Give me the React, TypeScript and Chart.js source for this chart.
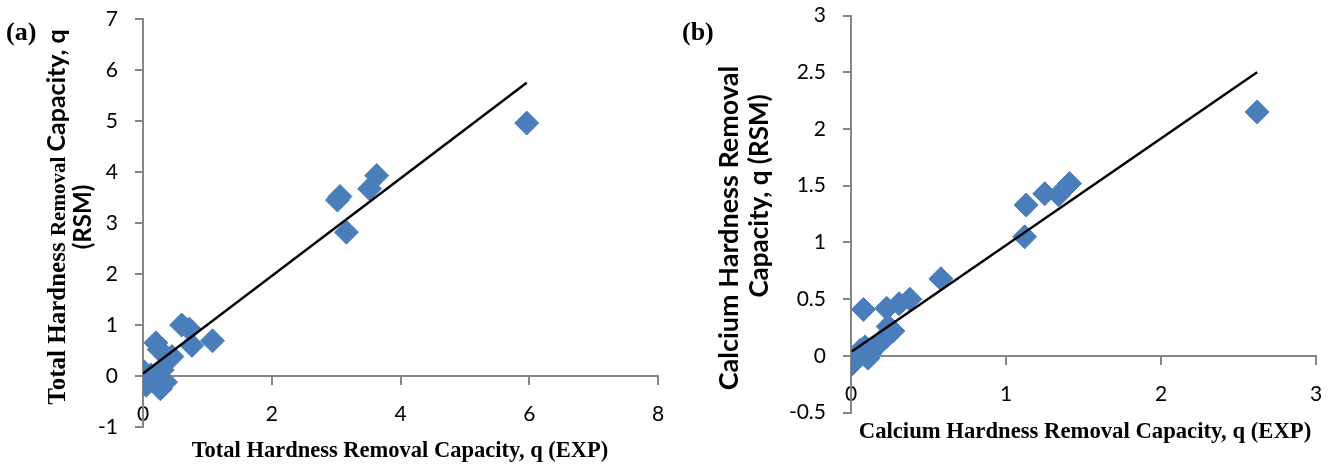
import React, { useEffect, useRef } from "react";
import { Chart, registerables } from "chart.js";

Chart.register(...registerables);

// ---------- Panel (a): Total hardness ----------
const expA = [0.02, 0.03, 0.05, 0.12, 0.2, 0.25, 0.27, 0.35, 0.3, 0.45, 0.6, 0.72, 0.76, 1.08, 3.02, 3.06, 3.16, 3.52, 3.63, 5.96];
const rsmA = [0.08, -0.08, -0.18, 0.02, 0.65, 0.52, -0.25, -0.12, 0.12, 0.38, 1.0, 0.92, 0.6, 0.69, 3.45, 3.52, 2.82, 3.67, 3.93, 4.96];
const fitExpA = [0, 5.96];
const fitRsmA = [0.05, 5.75];
const xRangeA = [0, 8, 2];
const yRangeA = [-1, 7, 1];

// ---------- Panel (b): Calcium hardness ----------
const expB = [0.0, 0.03, 0.06, 0.09, 0.11, 0.12, 0.19, 0.2, 0.23, 0.24, 0.27, 0.08, 0.23, 0.31, 0.38, 0.58, 1.12, 1.13, 1.25, 1.34, 1.41, 2.62];
const rsmB = [-0.08, 0.0, 0.05, 0.08, -0.02, 0.02, 0.12, 0.14, 0.17, 0.26, 0.22, 0.41, 0.42, 0.46, 0.5, 0.68, 1.05, 1.33, 1.43, 1.42, 1.52, 2.15];
const fitExpB = [0.005, 2.62];
const fitRsmB = [0.04, 2.5];
const xRangeB = [0, 3, 1];
const yRangeB = [-0.5, 3, 0.5];

const BLUE = "#4A7EBB";
const AXIS = "#868686";
const SERIF = "'Liberation Serif', 'Times New Roman', serif";
const SANS = "Lato, Carlito, Calibri, sans-serif";

type Seg = { text: string; font: string };
type TitleSpec = { segs: Seg[]; x: number; y: number; rotate: boolean; align?: "center" | "left" };

function drawSegs(ctx: CanvasRenderingContext2D, t: TitleSpec) {
  ctx.save();
  ctx.translate(t.x, t.y);
  if (t.rotate) ctx.rotate(-Math.PI / 2);
  let total = 0;
  const widths = t.segs.map((s) => {
    ctx.font = s.font;
    const w = ctx.measureText(s.text).width;
    total += w;
    return w;
  });
  let x = t.align === "left" ? 0 : -total / 2;
  ctx.textBaseline = "alphabetic";
  ctx.textAlign = "left";
  ctx.fillStyle = "#000";
  t.segs.forEach((s, i) => {
    ctx.font = s.font;
    ctx.fillText(s.text, x, 0);
    x += widths[i];
  });
  ctx.restore();
}

type PanelSpec = {
  left: number;
  width: number;
  exp: number[];
  rsm: number[];
  fitExp: number[];
  fitRsm: number[];
  xRange: number[];
  yRange: number[];
  yAxisWidth: number;
  pad: { top: number; right: number; bottom: number };
  titles: TitleSpec[];
};

const H = 465;

const panels: PanelSpec[] = [
  {
    left: 0,
    width: 682,
    exp: expA,
    rsm: rsmA,
    fitExp: fitExpA,
    fitRsm: fitRsmA,
    xRange: xRangeA,
    yRange: yRangeA,
    yAxisWidth: 143,
    pad: { top: 19, right: 24, bottom: 38 },
    titles: [
      { segs: [{ text: "(a)", font: `bold 26px ${SERIF}` }], x: 6, y: 40, rotate: false, align: "left" },
      {
        segs: [{ text: "Total Hardness Removal Capacity, q (EXP)", font: `bold 22.5px ${SERIF}` }],
        x: 400,
        y: 457,
        rotate: false,
      },
      {
        segs: [
          { text: "Total Hardness ", font: `bold 25px ${SERIF}` },
          { text: "Removal ", font: `bold 21px ${SERIF}` },
          { text: "Capacity, q", font: `bold 25px ${SANS}` },
        ],
        x: 65,
        y: 217,
        rotate: true,
      },
      { segs: [{ text: "(RSM)", font: `bold 24px ${SANS}` }], x: 91, y: 217, rotate: true },
    ],
  },
  {
    left: 667,
    width: 666,
    exp: expB,
    rsm: rsmB,
    fitExp: fitExpB,
    fitRsm: fitRsmB,
    xRange: xRangeB,
    yRange: yRangeB,
    yAxisWidth: 184,
    pad: { top: 15.5, right: 17, bottom: 52.3 },
    titles: [
      { segs: [{ text: "(b)", font: `bold 26px ${SERIF}` }], x: 15, y: 40, rotate: false, align: "left" },
      {
        segs: [{ text: "Calcium Hardness Removal Capacity, q (EXP)", font: `bold 22.7px ${SERIF}` }],
        x: 418,
        y: 438,
        rotate: false,
      },
      { segs: [{ text: "Calcium Hardness Removal", font: `bold 27px ${SANS}` }], x: 71, y: 228, rotate: true },
      { segs: [{ text: "Capacity, q (RSM)", font: `bold 26px ${SANS}` }], x: 101, y: 196, rotate: true },
    ],
  },
];

const fmt = (v: any) => `${Math.round(Number(v) * 100) / 100}`;

function Panel({ spec }: { spec: PanelSpec }) {
  const ref = useRef<HTMLCanvasElement>(null);
  useEffect(() => {
    const canvas = ref.current!;
    const titlePlugin = {
      id: "titles",
      afterDraw(chart: any) {
        const ctx = chart.ctx as CanvasRenderingContext2D;
        spec.titles.forEach((t) => drawSegs(ctx, t));
      },
    };
    const tickFont = { family: SANS, size: 21 };
    const zeroPad = (s: any) => {
      s.paddingLeft = 0;
      s.paddingRight = 0;
      s.paddingTop = 0;
      s.paddingBottom = 0;
    };
    const chart = new Chart(canvas, {
      type: "scatter",
      data: {
        datasets: [
          {
            type: "line",
            data: spec.fitExp.map((x, i) => ({ x, y: spec.fitRsm[i] })),
            borderColor: "#000",
            borderWidth: 2.5,
            pointRadius: 0,
            showLine: true,
            fill: false,
            order: 0,
          } as any,
          {
            type: "scatter",
            data: spec.exp.map((x, i) => ({ x, y: spec.rsm[i] })),
            backgroundColor: BLUE,
            borderColor: BLUE,
            borderWidth: 1,
            pointStyle: "rectRot",
            pointRadius: 12,
            order: 1,
          } as any,
        ],
      },
      options: {
        responsive: false,
        animation: false,
        devicePixelRatio: 1,
        events: [],
        layout: { padding: { left: 0, top: spec.pad.top, right: spec.pad.right, bottom: spec.pad.bottom } },
        plugins: { legend: { display: false }, tooltip: { enabled: false }, title: { display: false } },
        scales: {
          x: {
            type: "linear",
            position: { y: 0 } as any,
            min: spec.xRange[0],
            max: spec.xRange[1],
            afterFit: zeroPad,
            ticks: { stepSize: spec.xRange[2], font: tickFont, color: "#000", padding: 18, maxRotation: 0, callback: fmt },
            grid: { drawOnChartArea: false, drawTicks: true, tickLength: 8, color: AXIS, lineWidth: 2 },
            border: { display: true, color: AXIS, width: 2 },
          },
          y: {
            type: "linear",
            position: "left",
            min: spec.yRange[0],
            max: spec.yRange[1],
            afterFit: (s: any) => {
              s.width = spec.yAxisWidth;
              zeroPad(s);
            },
            ticks: { stepSize: spec.yRange[2], font: tickFont, color: "#000", padding: 17, callback: fmt },
            grid: { drawOnChartArea: false, drawTicks: true, tickLength: 8, color: AXIS, lineWidth: 2 },
            border: { display: true, color: AXIS, width: 2 },
          },
        },
      } as any,
      plugins: [titlePlugin],
    });
    return () => chart.destroy();
  }, [spec]);
  return (
    <canvas
      ref={ref}
      width={spec.width}
      height={H}
      style={{ position: "absolute", left: spec.left, top: 0, width: spec.width, height: H }}
    />
  );
}

export default function App() {
  return (
    <div style={{ position: "absolute", left: 0, top: 0, width: 1333, height: H, background: "#fff" }}>
      {panels.map((p, i) => (
        <Panel key={i} spec={p} />
      ))}
    </div>
  );
}
